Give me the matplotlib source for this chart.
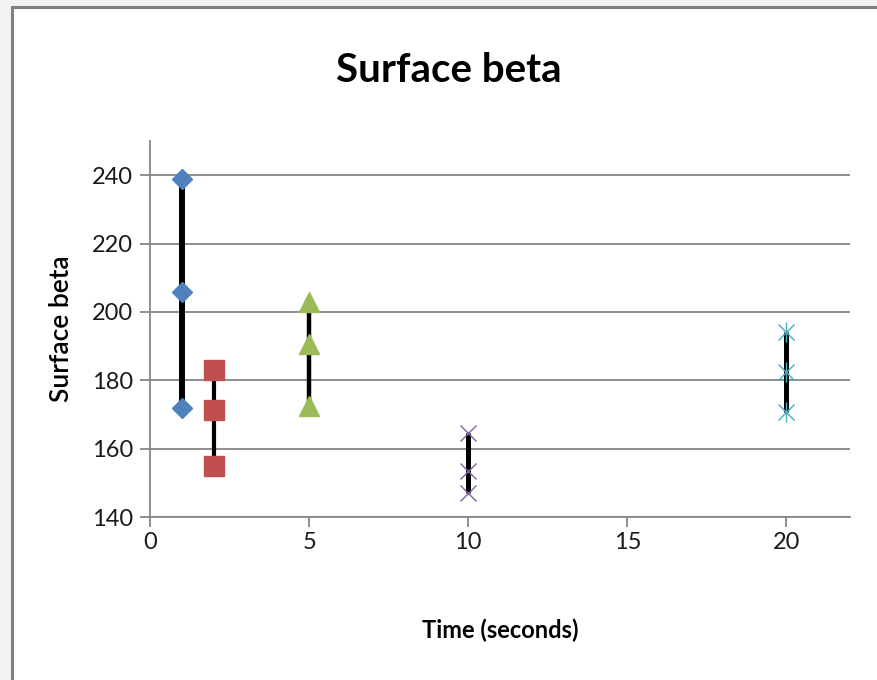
import matplotlib.pyplot as plt
from matplotlib.patches import Rectangle

# time points (seconds) and the three readings at each one
times = [1, 2, 5, 10, 20]
high = [239.0, 183.0, 202.8, 164.5, 194.2]
mid = [205.8, 171.2, 190.5, 153.5, 182.5]
low = [171.9, 155.0, 172.5, 147.0, 170.8]

colors = ['#4F81BD', '#C0504D', '#9BBB59', '#8064A2', '#4BACC6']
markers = ['D', 's', '^', 'x', 'x']
msizes = [10.5, 14, 14, 12, 12]
bar_widths = [4.3, 3.0, 3.2, 3.6, 3.6]

plt.rcParams['font.family'] = ['Lato', 'DejaVu Sans']

fig = plt.figure(figsize=(8.77, 6.8), dpi=100)
fig.patch.set_facecolor('white')

# outer frame like the excel chart border
fig.add_artist(Rectangle((0, 0), 1, 1, transform=fig.transFigure, facecolor='#f2f2f2', edgecolor='none', zorder=-3))
fig.add_artist(Rectangle((12 / 877, -0.1), 1.2, 1 - 7 / 680 + 0.1, transform=fig.transFigure,
                         facecolor='white', edgecolor='#7f7f7f', linewidth=2.2, zorder=-2))

ax = fig.add_axes([150 / 877, 1 - 517 / 680, 700 / 877, 376 / 680])
ax.set_facecolor('white')

for i in range(len(times)):
    ax.plot([times[i], times[i]], [low[i], high[i]], color='black', lw=bar_widths[i],
            solid_capstyle='butt', zorder=3)
    vals = [high[i], mid[i], low[i]]
    if markers[i] == 'x':
        ax.plot([times[i]] * 3, vals, linestyle='none', marker='x', markersize=msizes[i],
                markeredgecolor=colors[i], markeredgewidth=1.0, zorder=4)
        if i == 4:
            ax.plot([times[i]] * 3, vals, linestyle='none', marker='|', markersize=msizes[i] + 3,
                    markeredgecolor=colors[i], markeredgewidth=1.0, zorder=4)
    else:
        ax.plot([times[i]] * 3, vals, linestyle='none', marker=markers[i], markersize=msizes[i],
                color=colors[i], markeredgecolor=colors[i], zorder=4)

ax.set_xlim(0, 22)
ax.set_ylim(140, 250)
ax.set_xticks([0, 5, 10, 15, 20])
ax.set_yticks([140, 160, 180, 200, 220, 240])
ax.yaxis.grid(True, color='#868686', linewidth=1.3)
ax.set_axisbelow(True)
for s in ['top', 'right']:
    ax.spines[s].set_visible(False)
for s in ['left', 'bottom']:
    ax.spines[s].set_color('#868686')
    ax.spines[s].set_linewidth(1.3)
ax.tick_params(axis='both', colors='#868686', length=7, width=1.3, labelsize=17, labelcolor='#1a1a1a')
ax.tick_params(axis='y', pad=5)
ax.tick_params(axis='x', pad=4)

fig.text(449 / 877, 1 - 71 / 680, 'Surface beta', ha='center', va='center', fontsize=29, fontweight='bold')
fig.text(62 / 877, 1 - 329 / 680, 'Surface beta', ha='center', va='center', rotation=90,
         fontsize=19, fontweight='semibold')
fig.text(500 / 877, 1 - 630 / 680, 'Time (seconds)', ha='center', va='center', fontsize=17, fontweight='bold')

fig.savefig('out.png', dpi=100)
